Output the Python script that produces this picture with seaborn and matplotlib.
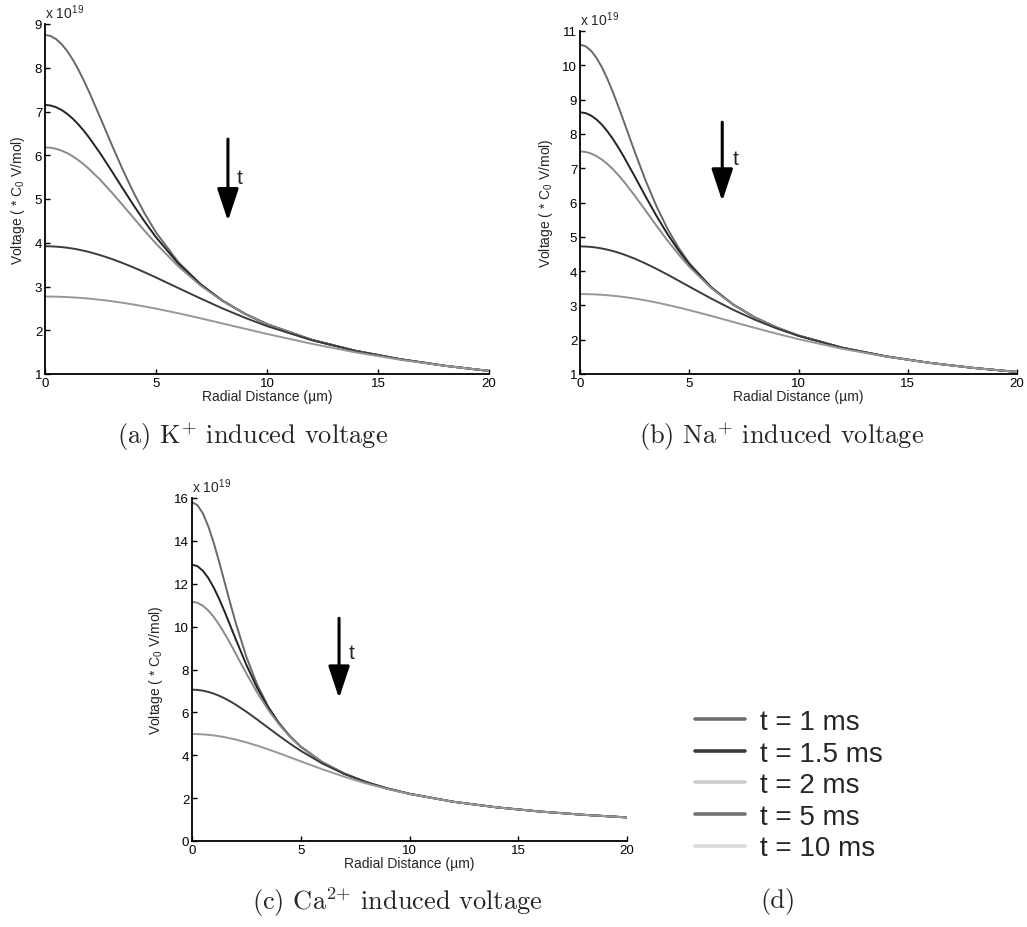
import matplotlib
matplotlib.use("Agg")
import matplotlib.pyplot as plt
import seaborn as sns
import pandas as pd
from matplotlib.lines import Line2D

# ---------------- data (values in units of 1e19 * C0 V/mol) ----------------
r = [0, 0.25, 0.5, 0.75, 1, 1.25, 1.5, 1.75, 2, 2.5, 3, 3.5, 4, 4.5, 5, 6, 7, 8, 9, 10, 12, 14, 16, 18, 20]
times = ['t = 1 ms', 't = 1.5 ms', 't = 2 ms', 't = 5 ms', 't = 10 ms']

k_1ms = [8.75, 8.726, 8.655, 8.539, 8.382, 8.187, 7.960, 7.707, 7.433, 6.847, 6.248, 5.671, 5.137, 4.659, 4.236, 3.56, 3.056, 2.675, 2.378, 2.14, 1.783, 1.529, 1.338, 1.189, 1.07]
k_1p5ms = [7.15, 7.137, 7.098, 7.034, 6.946, 6.837, 6.706, 6.559, 6.395, 6.034, 5.643, 5.242, 4.849, 4.475, 4.126, 3.526, 3.053, 2.673, 2.377, 2.14, 1.783, 1.529, 1.338, 1.189, 1.07]
k_2ms = [6.18, 6.172, 6.147, 6.105, 6.048, 5.976, 5.889, 5.791, 5.680, 5.432, 5.154, 4.860, 4.561, 4.265, 3.980, 3.462, 3.024, 2.666, 2.375, 2.139, 1.783, 1.529, 1.338, 1.189, 1.07]
k_5ms = [3.92, 3.918, 3.911, 3.901, 3.886, 3.867, 3.844, 3.817, 3.787, 3.715, 3.631, 3.536, 3.433, 3.322, 3.206, 2.966, 2.728, 2.498, 2.287, 2.095, 1.774, 1.527, 1.338, 1.189, 1.07]
k_10ms = [2.77, 2.769, 2.767, 2.763, 2.758, 2.751, 2.743, 2.733, 2.722, 2.696, 2.664, 2.628, 2.587, 2.542, 2.494, 2.389, 2.274, 2.155, 2.035, 1.916, 1.692, 1.493, 1.326, 1.187, 1.071]

na_1ms = [10.6, 10.557, 10.429, 10.222, 9.945, 9.609, 9.227, 8.810, 8.374, 7.487, 6.644, 5.889, 5.238, 4.690, 4.233, 3.533, 3.029, 2.65, 2.356, 2.12, 1.767, 1.514, 1.325, 1.178, 1.06]
na_1p5ms = [8.63, 8.607, 8.537, 8.424, 8.270, 8.079, 7.856, 7.609, 7.340, 6.766, 6.177, 5.610, 5.083, 4.611, 4.195, 3.527, 3.028, 2.65, 2.356, 2.12, 1.767, 1.514, 1.325, 1.178, 1.06]
na_2ms = [7.49, 7.475, 7.429, 7.355, 7.252, 7.125, 6.974, 6.803, 6.617, 6.205, 5.766, 5.323, 4.896, 4.494, 4.128, 3.507, 3.024, 2.65, 2.356, 2.12, 1.767, 1.514, 1.325, 1.178, 1.06]
na_5ms = [4.72, 4.716, 4.705, 4.686, 4.659, 4.626, 4.586, 4.539, 4.486, 4.364, 4.222, 4.066, 3.899, 3.725, 3.549, 3.201, 2.875, 2.583, 2.328, 2.110, 1.765, 1.514, 1.325, 1.178, 1.06]
na_10ms = [3.33, 3.329, 3.325, 3.318, 3.309, 3.297, 3.282, 3.265, 3.246, 3.200, 3.146, 3.084, 3.015, 2.941, 2.862, 2.694, 2.519, 2.345, 2.176, 2.016, 1.735, 1.506, 1.324, 1.177, 1.06]

ca_1ms = [15.8, 15.668, 15.282, 14.677, 13.903, 13.014, 12.070, 11.124, 10.211, 8.586, 7.283, 6.280, 5.499, 4.889, 4.40, 3.667, 3.143, 2.75, 2.444, 2.20, 1.833, 1.571, 1.375, 1.222, 1.10]
ca_1p5ms = [12.89, 12.818, 12.606, 12.267, 11.820, 11.289, 10.698, 10.073, 9.440, 8.217, 7.135, 6.224, 5.484, 4.884, 4.399, 3.667, 3.143, 2.75, 2.444, 2.20, 1.833, 1.571, 1.375, 1.222, 1.10]
ca_2ms = [11.16, 11.113, 10.975, 10.751, 10.453, 10.088, 9.676, 9.228, 8.760, 7.815, 6.921, 6.123, 5.439, 4.870, 4.393, 3.666, 3.143, 2.75, 2.444, 2.20, 1.833, 1.571, 1.375, 1.222, 1.10]
ca_5ms = [7.06, 7.048, 7.013, 6.954, 6.874, 6.774, 6.654, 6.518, 6.367, 6.031, 5.665, 5.285, 4.908, 4.546, 4.206, 3.609, 3.128, 2.747, 2.443, 2.20, 1.833, 1.571, 1.375, 1.222, 1.10]
ca_10ms = [4.99, 4.986, 4.973, 4.952, 4.924, 4.887, 4.843, 4.792, 4.734, 4.600, 4.446, 4.276, 4.095, 3.907, 3.717, 3.344, 2.997, 2.687, 2.419, 2.191, 1.832, 1.571, 1.375, 1.222, 1.10]

x_ticks = [0, 5, 10, 15, 20]
k_yticks = [1, 2, 3, 4, 5, 6, 7, 8, 9]
na_yticks = [1, 2, 3, 4, 5, 6, 7, 8, 9, 10, 11]
ca_yticks = [0, 2, 4, 6, 8, 10, 12, 14, 16]

line_colors = ['#686868', '#232323', '#8a8a8a', '#3c3c3c', '#979797']
legend_colors = ['#6e6e6e', '#3a3a3a', '#cdcdcd', '#737373', '#d9d9d9']

# ---------------- style ----------------
sns.set_style("ticks")
plt.rcParams['font.family'] = ['Liberation Sans', 'DejaVu Sans']
plt.rcParams['mathtext.fontset'] = 'custom'
plt.rcParams['mathtext.rm'] = 'cmr10'
plt.rcParams['mathtext.it'] = 'cmmi10'
plt.rcParams['mathtext.bf'] = 'cmb10'
plt.rcParams['mathtext.sf'] = 'Liberation Sans'
plt.rcParams['xtick.direction'] = 'in'
plt.rcParams['ytick.direction'] = 'in'

W, H = 1027, 928
fig = plt.figure(figsize=(W / 100, H / 100), dpi=100)


def px_axes(left, top, right, bottom):
    return fig.add_axes([left / W, 1 - bottom / H, (right - left) / W, (bottom - top) / H])


def make_df(series):
    rows = []
    for name, vals in zip(times, series):
        assert len(vals) == len(r)
        for xv, yv in zip(r, vals):
            rows.append({'r': xv, 'v': yv, 't': name})
    return pd.DataFrame(rows)


panels = [
    dict(box=(45, 25, 489, 375), series=[k_1ms, k_1p5ms, k_2ms, k_5ms, k_10ms], yticks=k_yticks,
         arrow=(8.24, 6.37, 4.50), tpos=(8.65, 5.5), ypad=5.8),
    dict(box=(580, 32, 1017, 375), series=[na_1ms, na_1p5ms, na_2ms, na_5ms, na_10ms], yticks=na_yticks,
         arrow=(6.51, 8.34, 6.04), tpos=(7.0, 7.27), ypad=5.6),
    dict(box=(192, 499, 627, 842), series=[ca_1ms, ca_1p5ms, ca_2ms, ca_5ms, ca_10ms], yticks=ca_yticks,
         arrow=(6.76, 10.39, 6.66), tpos=(7.22, 8.77), ypad=7.0),
]

for p in panels:
    ax = px_axes(*p['box'])
    df = make_df(p['series'])
    sns.lineplot(data=df, x='r', y='v', hue='t', hue_order=times, palette=line_colors,
                 estimator=None, legend=False, linewidth=1.4, ax=ax)
    ax.set_xlim(0, 20)
    ax.set_ylim(p['yticks'][0], p['yticks'][-1])
    ax.set_xticks(x_ticks)
    ax.set_yticks(p['yticks'])
    ax.tick_params(labelsize=9.5, length=3.5, width=1, pad=2, colors='black')
    for s in ['top', 'right']:
        ax.spines[s].set_visible(False)
    for s in ['left', 'bottom']:
        ax.spines[s].set_linewidth(1.3)
        ax.spines[s].set_color('black')
    ax.set_xlabel('Radial Distance (µm)', fontsize=10, labelpad=0.5)
    ax.set_ylabel(r'Voltage ( * $\mathsf{C_0}$ V/mol)', fontsize=10, labelpad=p['ypad'])
    ax.text(0.0, 1.008, r'x 10$^{\mathsf{19}}$', transform=ax.transAxes, fontsize=10,
            ha='left', va='bottom')
    xa, yt, yb = p['arrow']
    ax.annotate('', xy=(xa, yb), xytext=(xa, yt),
                arrowprops=dict(arrowstyle='-|>,head_length=0.9,head_width=0.3', lw=2.2,
                                color='black', mutation_scale=22, shrinkA=0, shrinkB=0))
    ax.text(p['tpos'][0], p['tpos'][1], 't', fontsize=15, ha='left', va='center')

# legend panel (d)
handles = [Line2D([0], [0], color=c, lw=2.6) for c in legend_colors]
fig.legend(handles, times, loc='upper left', bbox_to_anchor=(695 / W, 1 - 710 / H),
           frameon=False, fontsize=20, handlelength=1.8, handletextpad=0.55,
           labelspacing=0.2, borderpad=0, borderaxespad=0)

cap_kw = dict(fontsize=19, family='cmr10', ha='center', va='center')
fig.text(253 / W, 1 - 437 / H, r'(a) K$^{+}$ induced voltage', **cap_kw)
fig.text(782 / W, 1 - 437 / H, r'(b) Na$^{+}$ induced voltage', **cap_kw)
fig.text(397 / W, 1 - 902 / H, r'(c) Ca$^{2{+}}$ induced voltage', **cap_kw)
fig.text(778 / W, 1 - 902 / H, '(d)', **cap_kw)

fig.savefig('out.png', dpi=100)
